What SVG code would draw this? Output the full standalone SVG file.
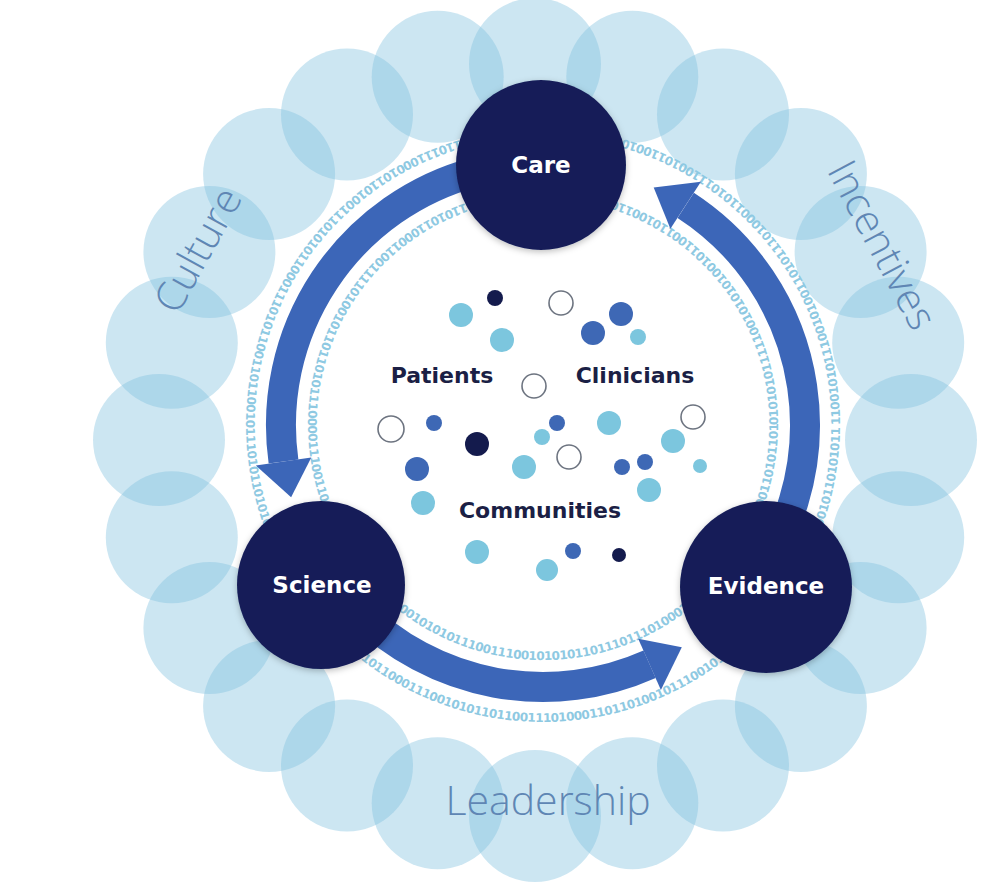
<svg xmlns="http://www.w3.org/2000/svg" xmlns:xlink="http://www.w3.org/1999/xlink" width="1006" height="890" viewBox="0 0 1006 890">
<defs>
<style>
.bub{fill:#7fc0df;fill-opacity:0.4}
.node{fill:#141d58}
.nlabel{font-family:"DejaVu Sans",sans-serif;font-weight:bold;font-size:23px;fill:#ffffff;text-anchor:middle}
.ilabel{font-family:"DejaVu Sans",sans-serif;font-weight:bold;font-size:22px;fill:#1b1f45;text-anchor:middle}
.olabel{font-family:"Open Sans",sans-serif;font-weight:300;font-size:41px;fill:#5f86b4;text-anchor:middle}
.bin{font-family:"DejaVu Sans",sans-serif;font-weight:bold;font-size:12px;fill:#8ec9e2;letter-spacing:-0.5px}
.arc{fill:none;stroke:#3c66b8;stroke-width:30}
.head{fill:#3c66b8}
.dl{fill:#7cc6de}
.dm{fill:#3e68b5}
.dn{fill:#141b4d}
.do{fill:#ffffff;stroke:#6d7480;stroke-width:1.6}
</style>
<filter id="sh" x="-20%" y="-20%" width="140%" height="140%">
<feDropShadow dx="0" dy="2" stdDeviation="3" flood-color="#000" flood-opacity="0.25"/>
</filter>
<path id="ringIn" d="M 778 425 A 235 235 0 1 0 308 425 A 235 235 0 1 0 778 425"/>
<path id="ringOut" d="M 840 425 A 297 297 0 1 0 246 425 A 297 297 0 1 0 840 425"/>
</defs>
<rect width="1006" height="890" fill="#ffffff"/>
<g id="bubbles">
<circle class="bub" cx="535" cy="64" r="66"/>
<circle class="bub" cx="632.3" cy="76.8" r="66"/>
<circle class="bub" cx="723" cy="114.4" r="66"/>
<circle class="bub" cx="800.9" cy="174.1" r="66"/>
<circle class="bub" cx="860.6" cy="252" r="66"/>
<circle class="bub" cx="898.2" cy="342.7" r="66"/>
<circle class="bub" cx="911" cy="440" r="66"/>
<circle class="bub" cx="898.2" cy="537.3" r="66"/>
<circle class="bub" cx="860.6" cy="628" r="66"/>
<circle class="bub" cx="800.9" cy="705.9" r="66"/>
<circle class="bub" cx="723" cy="765.6" r="66"/>
<circle class="bub" cx="632.3" cy="803.2" r="66"/>
<circle class="bub" cx="535" cy="816" r="66"/>
<circle class="bub" cx="437.7" cy="803.2" r="66"/>
<circle class="bub" cx="347" cy="765.6" r="66"/>
<circle class="bub" cx="269.1" cy="705.9" r="66"/>
<circle class="bub" cx="209.4" cy="628" r="66"/>
<circle class="bub" cx="171.8" cy="537.3" r="66"/>
<circle class="bub" cx="159" cy="440" r="66"/>
<circle class="bub" cx="171.8" cy="342.7" r="66"/>
<circle class="bub" cx="209.4" cy="252" r="66"/>
<circle class="bub" cx="269.1" cy="174.1" r="66"/>
<circle class="bub" cx="347" cy="114.4" r="66"/>
<circle class="bub" cx="437.7" cy="76.8" r="66"/>
</g>
<g id="outer-labels">
<text class="olabel" transform="translate(198,250) rotate(-61)" y="14">Culture</text>
<text class="olabel" transform="translate(882,245) rotate(62)" y="14">Incentives</text>
<text class="olabel" x="548" y="815">Leadership</text>
</g>
<g id="binary">
<text class="bin"><textPath xlink:href="#ringIn" href="#ringIn">0101010111110010101010010110011010011001110101001101000101101011000110011110100101101101011100001110011000111100110010101001010101110011100101010110111011101000111010010111100100011010110101001011001110001101101110100110101001110010101101101010101000110101110100011001011100101011001011010011011001100101110001</textPath></text>
<text class="bin"><textPath xlink:href="#ringOut" href="#ringOut">1100101011100101001101011101000110101110010110010111011100101010011010110111000101101001110101011000111010110011011001011101011010100101100111010001011101011000111001010110110011101000110110100101110010101110011010111010001100101101010111011000101110100110110010101100111010001011010111001101001011101100101001110101</textPath></text>
</g>
<g id="connectors">
<path class="arc" d="M 475.2 171.9 A 262 262 0 0 0 283.5 461.5"/>
<polygon class="head" points="311.3,457.6 255.8,465.4 291.1,497.2"/>
<path class="arc" d="M 743.7 593.4 A 262 262 0 0 0 685.7 205.3"/>
<polygon class="head" points="670.4,228.7 700.9,181.8 653.7,187.5"/>
<path class="arc" d="M 357.7 610.3 A 262 262 0 0 0 649.6 664.3"/>
<polygon class="head" points="638.2,638.8 660.9,689.9 681.8,647.2"/>
</g>
<g id="care">
<circle class="node" cx="541" cy="165" r="85" filter="url(#sh)"/>
<text class="nlabel" x="541" y="173">Care</text>
</g>
<g id="science">
<circle class="node" cx="321" cy="585" r="84" filter="url(#sh)"/>
<text class="nlabel" x="322" y="593">Science</text>
</g>
<g id="evidence">
<circle class="node" cx="766" cy="587" r="86" filter="url(#sh)"/>
<text class="nlabel" x="766" y="594">Evidence</text>
</g>
<g id="dots">
<circle class="dl" cx="461" cy="315" r="12"/>
<circle class="dn" cx="495" cy="298" r="8"/>
<circle class="do" cx="561" cy="303" r="12"/>
<circle class="dl" cx="502" cy="340" r="12"/>
<circle class="dm" cx="621" cy="314" r="12"/>
<circle class="dm" cx="593" cy="333" r="12"/>
<circle class="dl" cx="638" cy="337" r="8"/>
<circle class="do" cx="534" cy="386" r="12"/>
<circle class="do" cx="391" cy="429" r="13"/>
<circle class="dm" cx="434" cy="423" r="8"/>
<circle class="dn" cx="477" cy="444" r="12"/>
<circle class="dm" cx="557" cy="423" r="8"/>
<circle class="dl" cx="542" cy="437" r="8"/>
<circle class="dl" cx="609" cy="423" r="12"/>
<circle class="do" cx="693" cy="417" r="12"/>
<circle class="do" cx="569" cy="457" r="12"/>
<circle class="dl" cx="524" cy="467" r="12"/>
<circle class="dl" cx="673" cy="441" r="12"/>
<circle class="dm" cx="417" cy="469" r="12"/>
<circle class="dm" cx="622" cy="467" r="8"/>
<circle class="dm" cx="645" cy="462" r="8"/>
<circle class="dl" cx="700" cy="466" r="7"/>
<circle class="dl" cx="649" cy="490" r="12"/>
<circle class="dl" cx="423" cy="503" r="12"/>
<circle class="dl" cx="477" cy="552" r="12"/>
<circle class="dl" cx="547" cy="570" r="11"/>
<circle class="dm" cx="573" cy="551" r="8"/>
<circle class="dn" cx="619" cy="555" r="7"/>
</g>
<g id="patients"><text class="ilabel" x="442" y="383">Patients</text></g>
<g id="clinicians"><text class="ilabel" x="635" y="383">Clinicians</text></g>
<g id="communities"><text class="ilabel" x="540" y="518">Communities</text></g>
</svg>
